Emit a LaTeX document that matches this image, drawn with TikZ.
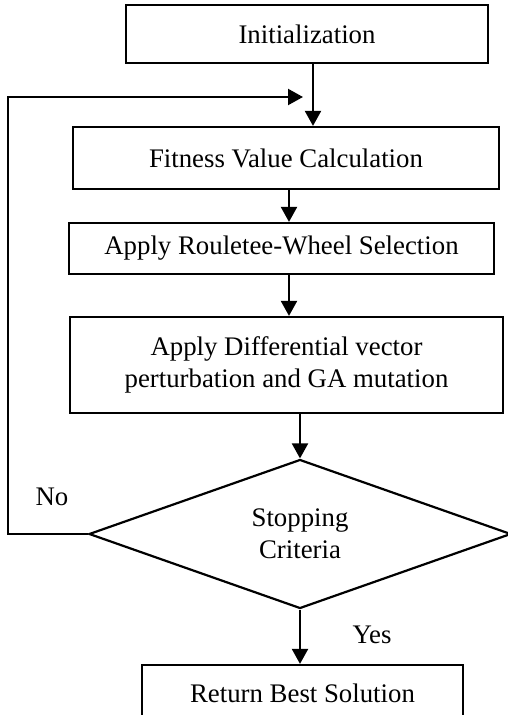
\documentclass[tikz,border=0pt]{standalone}
\usepackage{fontspec}
\setmainfont{Liberation Serif}
\usetikzlibrary{arrows.meta,shapes.geometric}
\begin{document}
\begin{tikzpicture}[x=1pt,y=-1pt,
  line width=2.2pt,
  every node/.style={font=\fontsize{26.8pt}{32pt}\selectfont, inner sep=0pt},
  procbox/.style={draw, rectangle, align=center},
  decision/.style={draw, diamond, aspect=2.8, align=center},
  lbl/.style={},
  arr/.style={-{Triangle[length=15pt,width=16pt]}}]
  \useasboundingbox (0,0) rectangle (507,715);

  % process steps
  \node[procbox, minimum width=362pt, minimum height=58pt] (init) at (307,34) {Initialization};
  \node[procbox, minimum width=426pt, minimum height=62pt] (fit) at (286,158) {Fitness Value Calculation};
  \node[procbox, minimum width=425pt, minimum height=51pt] (roul) at (281.5,248.5) {Apply Rouletee-Wheel Selection};
  \node[procbox, minimum width=433pt, minimum height=96pt] (diff) at (286.5,365) {Apply Differential vector\\perturbation and GA mutation};
  \node[decision, minimum width=422pt, minimum height=149pt] (dec) at (300,534) {Stopping\\Criteria};
  \node[procbox, minimum width=321pt, minimum height=57pt] (ret) at (302.5,693.5) {Return Best Solution};

  % branch labels
  \node[lbl] (no) at (52,497) {No};
  \node[lbl] (yes) at (372,635) {Yes};

  % connector columns and loop corners
  \coordinate (c1) at (313,0);
  \coordinate (c2) at (289,0);
  \coordinate (lp) at (8,97);
  \coordinate (merge) at (303,97);

  % connectors
  \draw[arr] (init.south -| c1) -- (fit.north -| c1);
  \draw[arr] (fit.south -| c2) -- (roul.north -| c2);
  \draw[arr] (roul.south -| c2) -- (diff.north -| c2);
  \draw[arr] (diff.south -| dec.north) -- (dec.north);
  \draw[arr] (dec.south) -- (ret.north -| dec.south);
  \draw[arr] (dec.west) -| (lp) -- (merge);
\end{tikzpicture}
\end{document}
